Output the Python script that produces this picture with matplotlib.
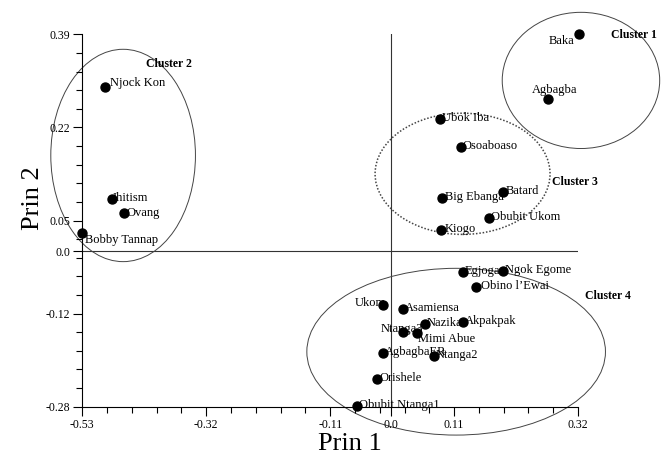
"""Principal component scatter (Prin 1 vs Prin 2) with cluster ellipses."""

import numpy as np
import matplotlib
matplotlib.use("Agg")
import matplotlib.pyplot as plt
from matplotlib.patches import Ellipse

plt.rcParams["font.family"] = ["Liberation Serif", "DejaVu Serif"]

# --- data ---
names = [
    "Baka", "Agbagba",
    "Njock Kon", "Ihitism", "Ovang", "Bobby Tannap",
    "Ubok Iba", "Osoaboaso", "Big Ebanga", "Batard", "Obubit Ukom", "Kiogo",
    "Egjoga", "Ngok Egome", "Obino l\u2019Ewai", "Ukom", "Asamiensa", "Nazika",
    "Akpakpak", "Ntanga3", "Mimi Abue", "AgbagbaER", "Ntanga2", "Orishele",
    "Obubit Ntanga1",
]
prin1 = [
    0.321, 0.269,
    -0.491, -0.479, -0.458, -0.530,
    0.083, 0.119, 0.087, 0.192, 0.168, 0.085,
    0.123, 0.192, 0.145, -0.014, 0.020, 0.057,
    0.123, 0.020, 0.044, -0.014, 0.073, -0.024,
    -0.059,
]
prin2 = [
    0.390, 0.274,
    0.296, 0.094, 0.068, 0.033,
    0.237, 0.188, 0.096, 0.106, 0.060, 0.038,
    -0.038, -0.036, -0.065, -0.097, -0.105, -0.132,
    -0.128, -0.145, -0.148, -0.184, -0.188, -0.230,
    -0.279,
]

# cluster ellipses: centre, width, height (data units)
cluster_names = ["Cluster 1", "Cluster 2", "Cluster 3", "Cluster 4"]
cluster_cx = [0.325, -0.460, 0.122, 0.111]
cluster_cy = [0.307, 0.172, 0.139, -0.181]
cluster_w = [0.270, 0.248, 0.300, 0.512]
cluster_h = [0.245, 0.382, 0.218, 0.300]
cluster_label_x = [0.376, -0.420, 0.276, 0.332]
cluster_label_y = [0.389, 0.336, 0.125, -0.080]

x_ticks = [-0.53, -0.3175, -0.105, 0.0, 0.1075, 0.32]
x_ticklabels = ["-0.53", "-0.32", "-0.11", "0.0", "0.11", "0.32"]
y_ticks = [0.39, 0.2225, 0.055, 0.0, -0.1125, -0.28]
y_ticklabels = ["0.39", "0.22", "0.05", "0.0", "-0.12", "-0.28"]

# label placement (pixel offsets from the point, horizontal alignment)
LABEL_OFFSETS = {
    "Baka": (-4, -7, "right"),
    "Agbagba": (-16, 9, "left"),
    "Njock Kon": (5, 4, "left"),
    "Ihitism": (1, 1, "left"),
    "Ovang": (2, 0, "left"),
    "Bobby Tannap": (3, -7, "left"),
    "Ukom": (3, 2, "right"),
    "Ntanga3": (-22, 3, "left"),
    "Mimi Abue": (1, -6, "left"),
    "Obino l\u2019Ewai": (5, 1, "left"),
    "Kiogo": (4, 1, "left"),
    "Big Ebanga": (3, 1, "left"),
}


def main():
    fig = plt.figure(figsize=(6.61, 4.57), dpi=100)
    ax = fig.add_axes([0.1245, 0.110, 0.750, 0.815])

    ax.set_xlim(-0.53, 0.32)
    ax.set_ylim(-0.28, 0.39)

    # crossing lines through the origin
    ax.axhline(0, color="#333333", lw=0.8, zorder=1)
    ax.axvline(0, color="#333333", lw=0.8, zorder=1)

    for i, cname in enumerate(cluster_names):
        dotted = cname == "Cluster 3"
        ell = Ellipse((cluster_cx[i], cluster_cy[i]), cluster_w[i], cluster_h[i],
                      fill=False, edgecolor="#444444",
                      linestyle=(0, (1, 1.2)) if dotted else "-",
                      lw=1.1 if dotted else 0.7, clip_on=False, zorder=1)
        ax.add_patch(ell)
        ax.text(cluster_label_x[i], cluster_label_y[i], cname, fontsize=8.5,
                fontweight="bold", ha="left", va="center", clip_on=False)

    ax.scatter(prin1, prin2, s=42, color="black", zorder=3, clip_on=False)

    for name, x, y in zip(names, prin1, prin2):
        dx, dy, ha = LABEL_OFFSETS.get(name, (2, 1, "left"))
        ax.annotate(name, (x, y), xytext=(dx, dy), textcoords="offset pixels",
                    ha=ha, va="center", fontsize=9, zorder=2,
                    annotation_clip=False)

    ax.set_xticks(x_ticks)
    ax.set_xticklabels(x_ticklabels)
    ax.set_yticks(y_ticks)
    ax.set_yticklabels(y_ticklabels)
    ax.set_xticks(np.linspace(-0.53, 0.32, 21), minor=True)
    ax.set_yticks(np.linspace(-0.28, 0.39, 21), minor=True)
    ax.tick_params(which="major", direction="out", length=6.5, width=0.8,
                   labelsize=8.5, pad=2)
    ax.tick_params(which="minor", direction="out", length=4.5, width=0.8)

    for side in ["top", "right"]:
        ax.spines[side].set_visible(False)
    for side in ["left", "bottom"]:
        ax.spines[side].set_linewidth(0.8)

    fig.text(349.5 / 661, 1 - 450.5 / 457, "Prin 1", fontsize=19,
             ha="center", va="baseline")
    fig.text(39 / 661, 1 - 198 / 457, "Prin 2", fontsize=19,
             ha="center", va="baseline", rotation=90, rotation_mode="anchor")

    fig.savefig("out.png", dpi=100)
    plt.close(fig)


if __name__ == "__main__":
    main()
